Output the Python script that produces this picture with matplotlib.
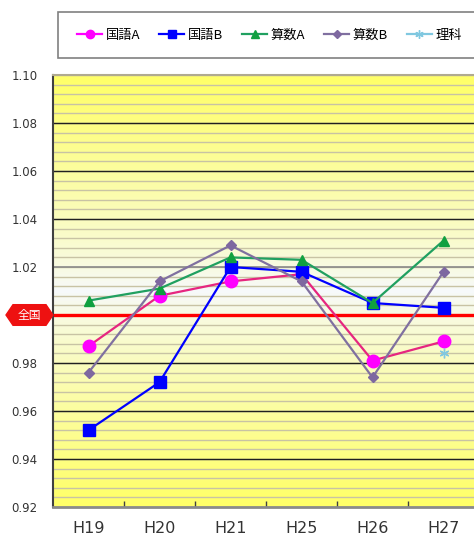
import numpy as np
import matplotlib
matplotlib.use("Agg")
import matplotlib.pyplot as plt
from matplotlib.patches import Polygon, Rectangle
from matplotlib.lines import Line2D
from matplotlib.colors import to_rgb
from matplotlib.transforms import blended_transform_factory

plt.rcParams['font.family'] = ['Noto Sans CJK JP', 'DejaVu Sans']

# Survey years and ratio to the national average
years = ["H19", "H20", "H21", "H25", "H26", "H27"]
kokugo_a = [0.987, 1.008, 1.014, 1.017, 0.981, 0.989]
kokugo_b = [0.952, 0.972, 1.020, 1.018, 1.005, 1.003]
sansu_a = [1.006, 1.011, 1.024, 1.023, 1.005, 1.031]
sansu_b = [0.976, 1.014, 1.029, 1.014, 0.974, 1.018]
rika = [None, None, None, None, None, 0.984]
series_names = ["国語A", "国語B", "算数A", "算数B", "理科"]
national = 1.00
y_ticks = [0.92, 0.94, 0.96, 0.98, 1.00, 1.02, 1.04, 1.06, 1.08, 1.10]

W, H = 474, 533
fig = plt.figure(figsize=(W / 100, H / 100), dpi=100)
ax = fig.add_axes([53 / W, 26 / H, 426 / W, 432 / H])

ymin, ymax = 0.92, 1.10
x = np.arange(len(years))
ax.set_xlim(-0.5, len(years) - 0.5)
ax.set_ylim(ymin, ymax)

# Yellow -> pale -> yellow vertical gradient for the plot area, as thin strips
yellow = np.array(to_rgb("#ffff66"))
pale = np.array(to_rgb("#f6f9fc"))
mid = 1.01
edges = np.linspace(ymin, ymax, 181)
for lo, hi in zip(edges[:-1], edges[1:]):
    c = 0.5 * (lo + hi)
    t = (c - mid) / (ymax - mid) if c >= mid else (mid - c) / (mid - ymin)
    t = min(max(t, 0.0), 1.0) ** 0.8
    col = pale * (1 - t) + yellow * t
    ax.axhspan(lo, hi, color=col, lw=0, zorder=0)

# Fine horizontal rules
for v in np.arange(ymin, ymax + 1e-9, 0.004):
    ax.axhline(v, color="#c8c3a4", lw=1.0, zorder=1)
for v in y_ticks:
    if abs(v - 1.02) < 1e-9:
        ax.axhline(v, color="#8a8a8a", lw=1.2, zorder=1.5)
    elif v not in (ymin, ymax, 1.00):
        ax.axhline(v, color="#202020", lw=1.0, zorder=1.5)

# National average line
ax.axhline(national, color="#ff0000", lw=2.4, zorder=2)

ax.plot(x, kokugo_a, color="#e6267f", lw=1.6, marker="o", ms=9,
        mfc="#ff00ff", mec="#ff00ff", zorder=4)
ax.plot(x, kokugo_b, color="#0000ff", lw=1.6, marker="s", ms=8,
        mfc="#0000ff", mec="#0000ff", zorder=4)
ax.plot(x, sansu_a, color="#20a060", lw=1.6, marker="^", ms=7.5,
        mfc="#10a040", mec="#10a040", zorder=4)
ax.plot(x, sansu_b, color="#8070a0", lw=1.6, marker="D", ms=5.5,
        mfc="#7e68a0", mec="#7e68a0", zorder=4)
rx = [i for i, v in enumerate(rika) if v is not None]
ry = [v for v in rika if v is not None]
ax.plot(rx, ry, color="#80c8e0", lw=1.6, marker=(6, 2, 0), ms=7, ls="none",
        mfc="#80c8e0", mec="#80c8e0", mew=1.0, zorder=4)

# Axes styling
ax.spines["right"].set_visible(False)
ax.spines["top"].set_color("#b0aa90")
ax.spines["top"].set_linewidth(1.5)
ax.spines["left"].set_color("#404040")
ax.spines["left"].set_linewidth(1.5)
ax.spines["bottom"].set_color("#8a8a8a")
ax.spines["bottom"].set_linewidth(2)

# the 1.00 row carries the national tag instead of a number
ax.set_yticks(y_ticks)
ax.set_yticklabels(["" if abs(v - national) < 1e-9 else f"{v:.2f}" for v in y_ticks],
                   fontsize=8.5, color="#333333", family=["DejaVu Sans"])
ax.tick_params(axis="y", length=0, pad=11)
ax.set_xticks(x)
ax.set_xticklabels(years, fontsize=11.5, color="#333333",
                   family=["DejaVu Sans"])
ax.set_xticks(np.arange(0.5, len(years) - 0.5, 1), minor=True)
ax.tick_params(axis="x", which="major", length=0, pad=10)
ax.tick_params(axis="x", which="minor", direction="in", length=4,
               color="#404040", width=1)

# "全国" tag on the national average line
tr = blended_transform_factory(fig.transFigure, ax.transData)
hh = 0.0043
tag = Polygon([(6 / W, national), (13 / W, national + hh),
               (46 / W, national + hh), (53 / W, national),
               (46 / W, national - hh), (13 / W, national - hh)],
              closed=True, transform=tr, facecolor="#ee1111",
              edgecolor="#ee1111", clip_on=False, zorder=5)
fig.add_artist(tag)
fig.text(29.5 / W, national, "全国", transform=tr, ha="center", va="center",
         color="white", fontsize=8.5, zorder=6)

# Legend
fig.add_artist(Rectangle((58 / W, 1 - 58 / H), 430 / W, 46 / H,
                         transform=fig.transFigure, facecolor="white",
                         edgecolor="#808080", lw=1.2))
handles = [
    Line2D([], [], color="#ff00ff", lw=1.6, marker="o", ms=6, mfc="#ff00ff", mec="#ff00ff"),
    Line2D([], [], color="#0000ff", lw=1.6, marker="s", ms=5.5, mfc="#0000ff", mec="#0000ff"),
    Line2D([], [], color="#20a060", lw=1.6, marker="^", ms=5.5, mfc="#10a040", mec="#10a040"),
    Line2D([], [], color="#8070a0", lw=1.6, marker="D", ms=4, mfc="#7e68a0", mec="#7e68a0"),
    Line2D([], [], color="#80c8e0", lw=1.6, marker=(6, 2, 0), ms=6, mfc="#80c8e0",
           mec="#80c8e0", mew=1.0),
]
fig.legend(handles, series_names, loc="center left",
           bbox_to_anchor=(72 / W, 1 - 35 / H), ncol=5, frameon=False,
           fontsize=9.5, handlelength=1.9, handletextpad=0.25,
           columnspacing=1.45, borderaxespad=0)

fig.savefig("out.png", dpi=100)
